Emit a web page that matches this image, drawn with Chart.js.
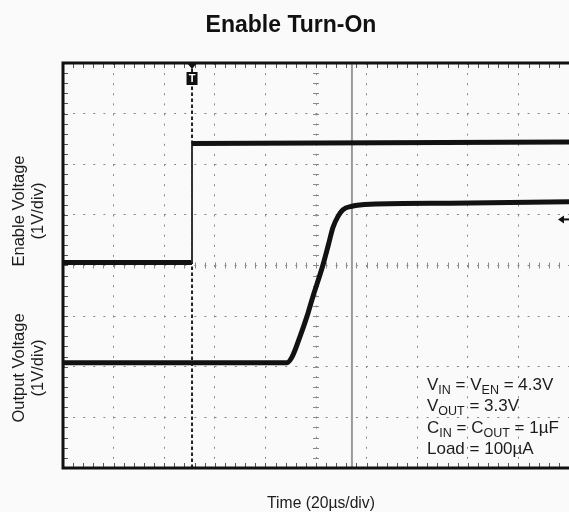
<!DOCTYPE html>
<html>
<head>
<meta charset="utf-8">
<script src="https://cdn.jsdelivr.net/npm/chart.js@4.4.1/dist/chart.umd.min.js"></script>
<style>
  html, body { margin: 0; padding: 0; background: #fafafa; }
  #wrap {
    position: relative; width: 569px; height: 512px; overflow: hidden;
    font-family: "Liberation Sans", Arial, sans-serif; color: #1c1c1c;
  }
  #scope { position: absolute; left: 0; top: 0; }
  .title {
    position: absolute; left: 0; top: 13px; width: 582px;
    text-align: center; font-weight: bold; font-size: 23px; line-height: 23px; color: #111;
  }
  .ylab {
    position: absolute; width: 160px; height: 38px; text-align: center;
    font-size: 16.5px; line-height: 19px; transform: rotate(-90deg); white-space: nowrap;
  }
  .xlab {
    position: absolute; left: 221px; top: 494px; width: 200px; text-align: center;
    font-size: 15.7px; line-height: 18px; white-space: nowrap;
  }
  .notes {
    position: absolute; left: 427px; top: 375px; font-size: 17px; line-height: 20.4px;
    white-space: nowrap;
  }
  .notes .s { font-size: 12.5px; position: relative; top: 4px; }
</style>
</head>
<body>
<div id="wrap">
  <canvas id="scope" width="569" height="512"></canvas>
  <div class="title">Enable Turn-On</div>
  <div class="ylab" style="left:-52px; top:192px;">Enable Voltage<br>(1V/div)</div>
  <div class="ylab" style="left:-52px; top:349px;">Output Voltage<br>(1V/div)</div>
  <div class="xlab">Time (20µs/div)</div>
  <div class="notes">
    V<span class="s">IN</span> = V<span class="s">EN</span> = 4.3V<br>
    V<span class="s">OUT</span> = 3.3V<br>
    C<span class="s">IN</span> = C<span class="s">OUT</span> = 1µF<br>
    Load = 100µA
  </div>
</div>
<script>
// screen time in µs (20µs/div, 10 div), levels in screen divisions (8 div, 0 = centre line)
const enableTime = [0, 51, 51, 200];
const enableLevel = [0.06, 0.06, 2.41, 2.44];

const outputTime = [0, 88.5, 90.6, 93.7, 96.4, 98.8, 101.6, 102.8, 104.9, 106.7, 108.7, 110.6, 114.2, 121.4, 153, 200];
const outputLevel = [-1.92, -1.92, -1.80, -1.40, -1.01, -0.61, -0.18, 0.02, 0.41, 0.75, 0.97, 1.10, 1.17, 1.21, 1.23, 1.26];

const triggerTime = 51;
const cursorTime = 114.2;
const refMarkerLevel = 0.91;

const timeMin = 0, timeMax = 200, timeDiv = 20;
const levelMin = -4, levelMax = 4, levelDiv = 1;
const minorPerDiv = 5;

const toPoints = (xs, ys) => xs.map((x, i) => ({ x, y: ys[i] }));

///

const scopeDecor = {
  id: 'scopeDecor',
  beforeDatasetsDraw(chart) {
    const { ctx, scales: { x, y } } = chart;
    const cx = x.getPixelForValue((timeMin + timeMax) / 2);
    const cy = y.getPixelForValue(0);
    ctx.save();
    ctx.strokeStyle = '#8a8a8a';
    ctx.lineWidth = 1;
    ctx.beginPath();
    // minor ticks on the centre crosshair
    for (let t = timeMin; t <= timeMax; t += timeDiv / minorPerDiv) {
      const px = Math.round(x.getPixelForValue(t)) + 0.5;
      ctx.moveTo(px, cy - 3); ctx.lineTo(px, cy + 3);
    }
    for (let v = levelMin; v <= levelMax; v += levelDiv / minorPerDiv) {
      const py = Math.round(y.getPixelForValue(v)) + 0.5;
      ctx.moveTo(cx - 3, py); ctx.lineTo(cx + 3, py);
    }
    ctx.stroke();
    ctx.restore();
  },
  afterDatasetsDraw(chart) {
    const { ctx, chartArea: a, scales: { x, y } } = chart;
    ctx.save();
    // ticks along the frame
    ctx.strokeStyle = '#555';
    ctx.lineWidth = 1;
    ctx.beginPath();
    for (let t = timeMin; t <= timeMax; t += timeDiv / minorPerDiv) {
      const px = Math.round(x.getPixelForValue(t)) + 0.5;
      ctx.moveTo(px, a.top); ctx.lineTo(px, a.top + 5);
      ctx.moveTo(px, a.bottom); ctx.lineTo(px, a.bottom - 5);
    }
    for (let v = levelMin; v <= levelMax; v += levelDiv / minorPerDiv) {
      const py = Math.round(y.getPixelForValue(v)) + 0.5;
      ctx.moveTo(a.left, py); ctx.lineTo(a.left + 5, py);
    }
    ctx.stroke();

    // frame (right side is cut off in the capture)
    ctx.strokeStyle = '#111';
    ctx.lineWidth = 3;
    ctx.beginPath();
    ctx.moveTo(a.right + 4, a.top);
    ctx.lineTo(a.left, a.top);
    ctx.lineTo(a.left, a.bottom);
    ctx.lineTo(a.right + 4, a.bottom);
    ctx.stroke();

    // trigger marker
    const tx = x.getPixelForValue(triggerTime);
    ctx.fillStyle = '#111';
    ctx.beginPath();
    ctx.moveTo(tx - 5, a.top);
    ctx.lineTo(tx + 5, a.top);
    ctx.lineTo(tx, a.top + 6);
    ctx.closePath();
    ctx.fill();
    ctx.fillRect(tx - 5.5, a.top + 9, 11, 13);
    ctx.fillStyle = '#fff';
    ctx.font = 'bold 11px "Liberation Sans", Arial, sans-serif';
    ctx.textAlign = 'center';
    ctx.textBaseline = 'middle';
    ctx.fillText('T', tx, a.top + 16);

    // channel reference arrow at the right edge
    const ry = y.getPixelForValue(refMarkerLevel);
    const rx = a.right - 11;
    ctx.fillStyle = '#111';
    ctx.beginPath();
    ctx.moveTo(rx, ry);
    ctx.lineTo(rx + 6, ry - 4);
    ctx.lineTo(rx + 6, ry + 4);
    ctx.closePath();
    ctx.fill();
    ctx.fillRect(rx + 5, ry - 1, 7, 2);
    ctx.restore();
  }
};

const ctx = document.getElementById('scope').getContext('2d');
new Chart(ctx, {
  type: 'line',
  data: {
    datasets: [
      {
        label: 'Enable',
        data: toPoints(enableTime, enableLevel),
        borderColor: '#121212',
        borderWidth: 5,
        pointRadius: 0,
        order: 1,
        segment: {
          borderWidth: (c) => (c.p0.parsed.x === c.p1.parsed.x ? 2 : 5),
          borderColor: (c) => (c.p0.parsed.x === c.p1.parsed.x ? '#333' : '#121212'),
        },
      },
      {
        label: 'Output',
        data: toPoints(outputTime, outputLevel),
        borderColor: '#121212',
        borderWidth: 5,
        pointRadius: 0,
        cubicInterpolationMode: 'monotone',
        order: 1,
      },
      {
        label: 'Trigger',
        data: toPoints([triggerTime, triggerTime], [levelMin, levelMax]),
        borderColor: '#222',
        borderWidth: 2,
        borderDash: [3.5, 2.5],
        pointRadius: 0,
        order: 2,
      },
      {
        label: 'Cursor',
        data: toPoints([cursorTime, cursorTime], [levelMin, levelMax]),
        borderColor: '#9a9a9a',
        borderWidth: 2,
        pointRadius: 0,
        order: 2,
      },
    ],
  },
  options: {
    responsive: false,
    animation: false,
    events: [],
    layout: { padding: { left: 63, top: 63, right: 0, bottom: 44 } },
    plugins: {
      legend: { display: false },
      tooltip: { enabled: false },
    },
    scales: {
      x: {
        type: 'linear',
        min: timeMin,
        max: timeMax,
        ticks: { display: false, stepSize: timeDiv },
        grid: { color: '#888', lineWidth: 1, drawTicks: false },
        border: { display: false, dash: [2, 8.1] },
      },
      y: {
        type: 'linear',
        min: levelMin,
        max: levelMax,
        ticks: { display: false, stepSize: levelDiv },
        grid: { color: '#888', lineWidth: 1, drawTicks: false },
        border: { display: false, dash: [2, 8.1] },
      },
    },
  },
  plugins: [scopeDecor],
});
</script>
</body>
</html>
